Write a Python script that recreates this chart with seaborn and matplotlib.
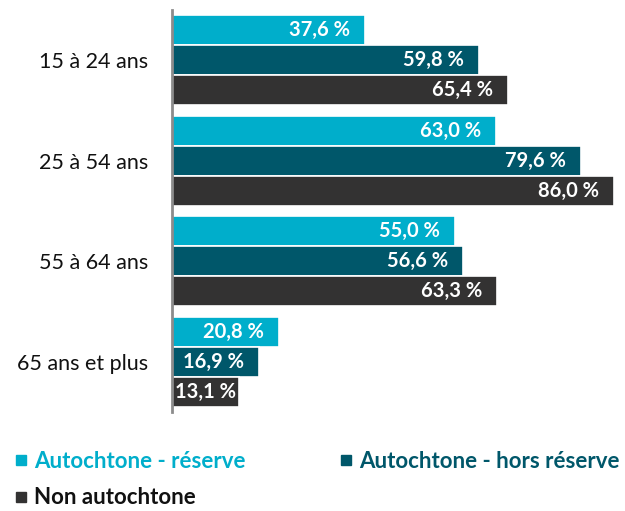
import matplotlib
matplotlib.use("Agg")
import matplotlib.pyplot as plt
from matplotlib.lines import Line2D
import pandas as pd
import seaborn as sns

groups = ["15 à 24 ans", "25 à 54 ans", "55 à 64 ans", "65 ans et plus"]
series = ["Autochtone - réserve", "Autochtone - hors réserve", "Non autochtone"]
reserve = [37.6, 63.0, 55.0, 20.8]
hors_reserve = [59.8, 79.6, 56.6, 16.9]
non_autochtone = [65.4, 86.0, 63.3, 13.1]

colors = ["#00AECB", "#00576A", "#333232"]
legend_text_colors = ["#00AECB", "#00576A", "#111111"]


def main() -> None:
    sns.set_theme(style="white")
    plt.rcParams["font.family"] = ["Lato", "DejaVu Sans"]

    df = pd.DataFrame(
        {
            "groupe": groups * 3,
            "serie": [s for s in series for _ in groups],
            "valeur": reserve + hors_reserve + non_autochtone,
        }
    )

    fig = plt.figure(figsize=(6.25, 5.11), dpi=100)
    ax = fig.add_axes([0.2752, 0.1937, 0.7248, 0.7867])
    sns.barplot(
        data=df,
        y="groupe",
        x="valeur",
        hue="serie",
        order=groups,
        hue_order=series,
        palette=colors,
        orient="h",
        width=0.9,
        edgecolor="white",
        linewidth=1.2,
        saturation=1,
        errorbar=None,
        legend=False,
        ax=ax,
    )

    for container in ax.containers:
        for bar in container:
            val = bar.get_width()
            yc = bar.get_y() + bar.get_height() / 2
            label = f"{val:.1f} %".replace(".", ",")
            if val < 15:
                ax.annotate(label, (0, yc), xytext=(2, 0), textcoords="offset points",
                            ha="left", va="center", color="white", fontsize=14.5, fontweight="bold")
            else:
                ax.annotate(label, (val, yc), xytext=(-11, 0), textcoords="offset points",
                            ha="right", va="center", color="white", fontsize=14.5, fontweight="bold")

    ax.set_xlim(0, 88.1)
    ax.set_ylim(3.5, -0.5)
    ax.set_xlabel("")
    ax.set_ylabel("")
    ax.set_xticks([])
    ax.tick_params(axis="y", length=0, pad=17, labelsize=15.5, labelcolor="#111111")
    for side in ["top", "right", "bottom"]:
        ax.spines[side].set_visible(False)
    ax.spines["left"].set_color("#8c8c8c")
    ax.spines["left"].set_linewidth(2)

    handles = [
        Line2D([], [], marker="s", linestyle="", markersize=7, color=colors[i])
        for i in range(3)
    ]
    order = [0, 2, 1]
    leg = fig.legend(
        [handles[i] for i in order],
        [series[i] for i in order],
        ncol=2,
        loc="upper left",
        bbox_to_anchor=(0.024, 0.117),
        borderaxespad=0,
        borderpad=0,
        frameon=False,
        handletextpad=0.34,
        handlelength=0.5,
        columnspacing=4.3,
        labelspacing=0.68,
        prop={"size": 16, "weight": "bold"},
        labelcolor=[legend_text_colors[i] for i in order],
    )
    leg.set_in_layout(False)

    fig.savefig("out.png", dpi=100)
    plt.close(fig)


if __name__ == "__main__":
    main()
